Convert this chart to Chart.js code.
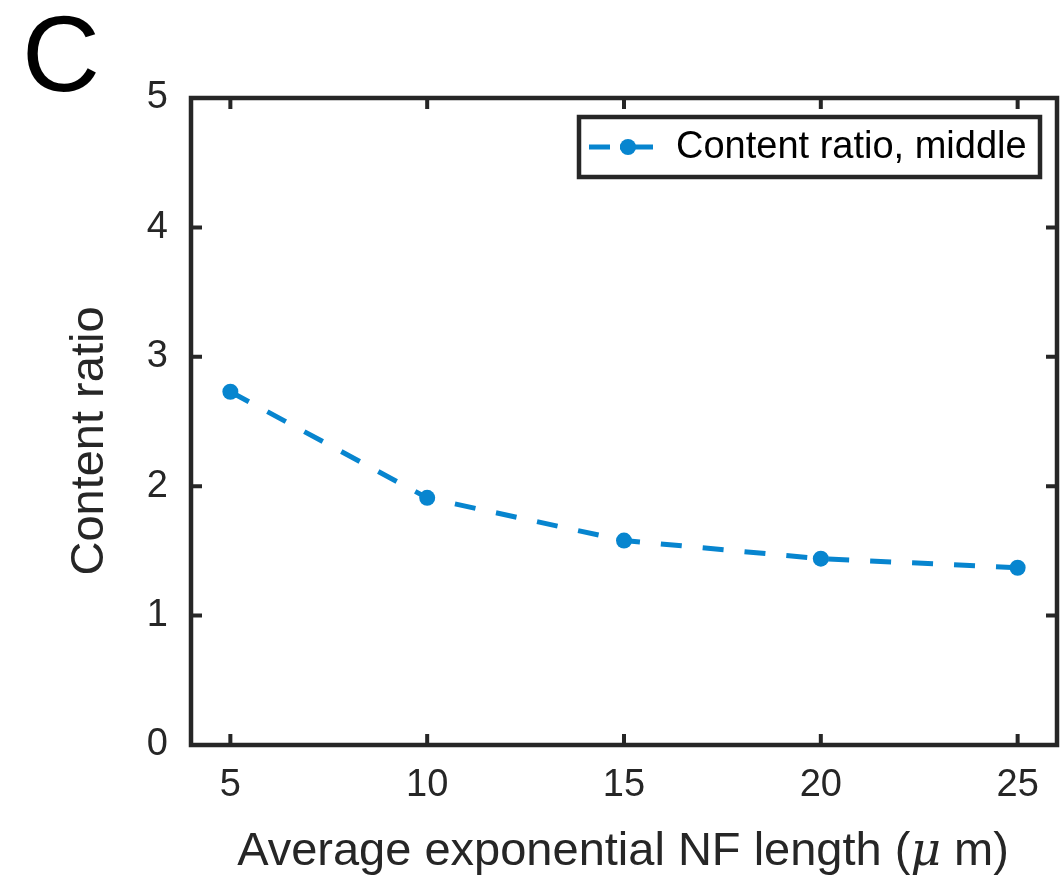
<!DOCTYPE html>
<html>
<head>
<meta charset="utf-8">
<script src="https://cdn.jsdelivr.net/npm/chart.js@4.4.1/dist/chart.umd.min.js"></script>
<style>
  html, body { margin: 0; padding: 0; background: #fff; }
  #wrap { width: 1061px; height: 876px; }
</style>
</head>
<body>
<div id="wrap"><canvas id="chart" width="1061" height="876"></canvas></div>
<script>
// data
const nfLength = [5, 10, 15, 20, 25];
const ratioMiddle = [2.73, 1.91, 1.58, 1.44, 1.37];
const xTicks = [5, 10, 15, 20, 25];
const yTicks = [0, 1, 2, 3, 4, 5];
const seriesLabel = "Content ratio, middle";
const yTitle = "Content ratio";
const panelLetter = "C";

const FONT = "'Liberation Sans', Arial, Helvetica, sans-serif";
const AXIS = "#262626";
const BLUE = "#0785cf";

Chart.defaults.font.family = FONT;

function drawMark(ctx, x, y) {
    ctx.beginPath();
    ctx.arc(x, y, 8, 0, Math.PI * 2);
    ctx.fill();
}

const matlabAxes = {
    id: "matlabAxes",
    afterDraw(chart) {
        const { ctx, chartArea: a, scales } = chart;
        ctx.save();

        // box
        ctx.strokeStyle = AXIS;
        ctx.lineWidth = 4.5;
        ctx.strokeRect(a.left, a.top, a.right - a.left, a.bottom - a.top);

        // inward ticks on all four sides
        ctx.lineWidth = 4;
        ctx.beginPath();
        xTicks.forEach((v) => {
            const px = scales.x.getPixelForValue(v);
            ctx.moveTo(px, a.bottom); ctx.lineTo(px, a.bottom - 11);
            ctx.moveTo(px, a.top); ctx.lineTo(px, a.top + 11);
        });
        yTicks.forEach((v) => {
            const py = scales.y.getPixelForValue(v);
            ctx.moveTo(a.left, py); ctx.lineTo(a.left + 11, py);
            ctx.moveTo(a.right, py); ctx.lineTo(a.right - 11, py);
        });
        ctx.stroke();

        // legend box
        const lx = 579, ly = 117, lw = 461, lh = 60;
        ctx.fillStyle = "#fff";
        ctx.fillRect(lx, ly, lw, lh);
        ctx.strokeStyle = AXIS;
        ctx.lineWidth = 4.5;
        ctx.strokeRect(lx, ly, lw, lh);
        const my = ly + lh / 2;
        ctx.strokeStyle = BLUE;
        ctx.fillStyle = BLUE;
        ctx.lineWidth = 5;
        ctx.beginPath();
        ctx.moveTo(589, my); ctx.lineTo(610, my);
        ctx.moveTo(620, my); ctx.lineTo(653, my);
        ctx.stroke();
        drawMark(ctx, 628, my);
        ctx.fillStyle = "#000";
        ctx.font = "38px " + FONT;
        ctx.textBaseline = "middle";
        ctx.textAlign = "left";
        ctx.fillText(chart.data.datasets[0].label, 676, my + 1);

        // x title with italic mu
        const parts = [
            { t: "Average exponential NF length (", f: "47px " + FONT },
            { t: "\u03bc", f: "italic 47px 'DejaVu Serif', serif" },
            { t: " m)", f: "47px " + FONT },
        ];
        let total = 0;
        parts.forEach((p) => { ctx.font = p.f; p.w = ctx.measureText(p.t).width; total += p.w; });
        let cx = 623 - total / 2;
        ctx.fillStyle = AXIS;
        ctx.textBaseline = "alphabetic";
        parts.forEach((p) => { ctx.font = p.f; ctx.fillText(p.t, cx, 865); cx += p.w; });

        // y title
        ctx.save();
        ctx.translate(103, 441);
        ctx.rotate(-Math.PI / 2);
        ctx.font = "47px " + FONT;
        ctx.textAlign = "center";
        ctx.fillText(yTitle, 0, 0);
        ctx.restore();

        // panel letter
        ctx.fillStyle = "#000";
        ctx.font = "108px " + FONT;
        ctx.textAlign = "left";
        ctx.fillText(panelLetter, 22, 91);

        ctx.restore();
    },
};

new Chart(document.getElementById("chart"), {
    type: "line",
    data: {
        datasets: [{
            label: seriesLabel,
            data: nfLength.map((x, i) => ({ x, y: ratioMiddle[i] })),
            borderColor: BLUE,
            backgroundColor: BLUE,
            borderWidth: 5,
            borderDash: [21, 21],
            pointRadius: 8,
            pointBorderWidth: 0,
            pointBackgroundColor: BLUE,
            tension: 0,
            fill: false,
            clip: false,
        }],
    },
    options: {
        responsive: false,
        devicePixelRatio: 1,
        animation: false,
        layout: { autoPadding: false, padding: { top: 98, right: 4, left: 0, bottom: 0 } },
        plugins: { legend: { display: false }, tooltip: { enabled: false } },
        scales: {
            x: {
                type: "linear",
                min: 4, max: 26,
                afterBuildTicks: (s) => { s.ticks = xTicks.map((v) => ({ value: v })); },
                afterFit: (s) => { s.height = 131; s.paddingLeft = 0; s.paddingRight = 0; },
                grid: { display: false, drawTicks: false },
                border: { display: false },
                ticks: { color: AXIS, font: { size: 38 }, padding: 18, maxRotation: 0 },
            },
            y: {
                min: 0, max: 5,
                afterBuildTicks: (s) => { s.ticks = yTicks.map((v) => ({ value: v })); },
                afterFit: (s) => { s.width = 191; s.paddingTop = 0; s.paddingBottom = 0; },
                grid: { display: false, drawTicks: false },
                border: { display: false },
                ticks: { color: AXIS, font: { size: 38 }, padding: 23 },
            },
        },
    },
    plugins: [matlabAxes],
});
</script>
</body>
</html>
